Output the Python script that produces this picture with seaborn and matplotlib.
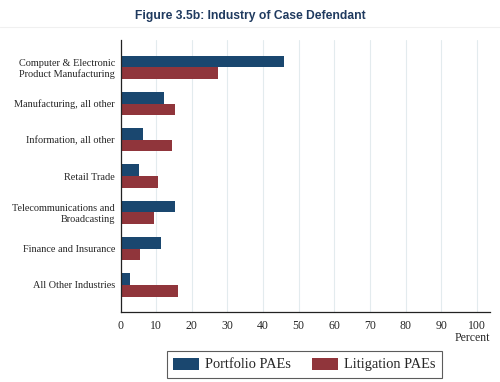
import pandas as pd
import matplotlib
matplotlib.use("Agg")
import matplotlib.pyplot as plt
import seaborn as sns

# data
industries = [
    "Computer & Electronic\nProduct Manufacturing",
    "Manufacturing, all other",
    "Information, all other",
    "Retail Trade",
    "Telecommunications and\nBroadcasting",
    "Finance and Insurance",
    "All Other Industries",
]
portfolio = [45.9, 12.2, 6.4, 5.3, 15.4, 11.3, 2.6]
litigation = [27.5, 15.4, 14.4, 10.6, 9.5, 5.4, 16.0]
groups = ["Portfolio PAEs", "Litigation PAEs"]
xticks = list(range(0, 101, 10))

df = pd.DataFrame({"industry": industries * 2,
                   "value": portfolio + litigation,
                   "group": [groups[0]] * 7 + [groups[1]] * 7})

sns.set_style("white")
plt.rcParams["font.family"] = ["Liberation Serif", "DejaVu Serif"]

fig = plt.figure(figsize=(5, 3.82), dpi=100)
ax = fig.add_axes([0.241, 0.183, 0.739, 0.712])

sns.barplot(data=df, y="industry", x="value", hue="group", orient="h",
            palette=["#1a476f", "#90353b"], saturation=1, width=0.64, ax=ax,
            edgecolor="none", linewidth=0, legend=True)

ax.set_xlim(0, 103.7)
ax.set_ylim(6.75, -0.75)
ax.set_xticks(xticks)
ax.set_xticklabels([str(t) for t in xticks], fontsize=8.5)
ax.tick_params(axis="x", length=3, width=0.8, color="#333333", pad=3)
ax.tick_params(axis="y", length=0, pad=4, labelsize=7.4)
for lbl in ax.get_yticklabels():
    lbl.set_horizontalalignment("right")
    lbl.set_multialignment("right")
ax.xaxis.grid(True, color="#e3ebee", linewidth=0.8)
ax.set_axisbelow(True)
ax.set_xlabel("")
ax.set_ylabel("")
for s in ["top", "right"]:
    ax.spines[s].set_visible(False)
ax.spines["left"].set_color("#222222")
ax.spines["bottom"].set_color("#222222")
ax.spines["left"].set_linewidth(0.9)
ax.spines["bottom"].set_linewidth(0.9)

fig.text(0.98, 0.10, "Percent", ha="right", va="bottom", fontsize=8.5)

handles, labels = ax.get_legend_handles_labels()
ax.legend(handles, labels, loc="lower center", bbox_to_anchor=(0.609, 0.0105),
          bbox_transform=fig.transFigure, ncol=2, fontsize=10.4,
          frameon=True, fancybox=False, edgecolor="#333333",
          handlelength=1.8, handleheight=0.9, handletextpad=0.42,
          columnspacing=1.46, borderpad=0.45, borderaxespad=0)
ax.legend_.get_frame().set_linewidth(0.8)

fig.text(0.5, 0.975, "Figure 3.5b: Industry of Case Defendant", ha="center",
         va="top", fontsize=8.7, fontweight="bold", color="#1f3a5f",
         family=["Liberation Sans", "DejaVu Sans"])
fig.add_artist(plt.Line2D([0.0, 1.0], [0.93, 0.93], color="#f0f0f0",
                          linewidth=0.8, transform=fig.transFigure))

fig.savefig("out.png", dpi=100)
